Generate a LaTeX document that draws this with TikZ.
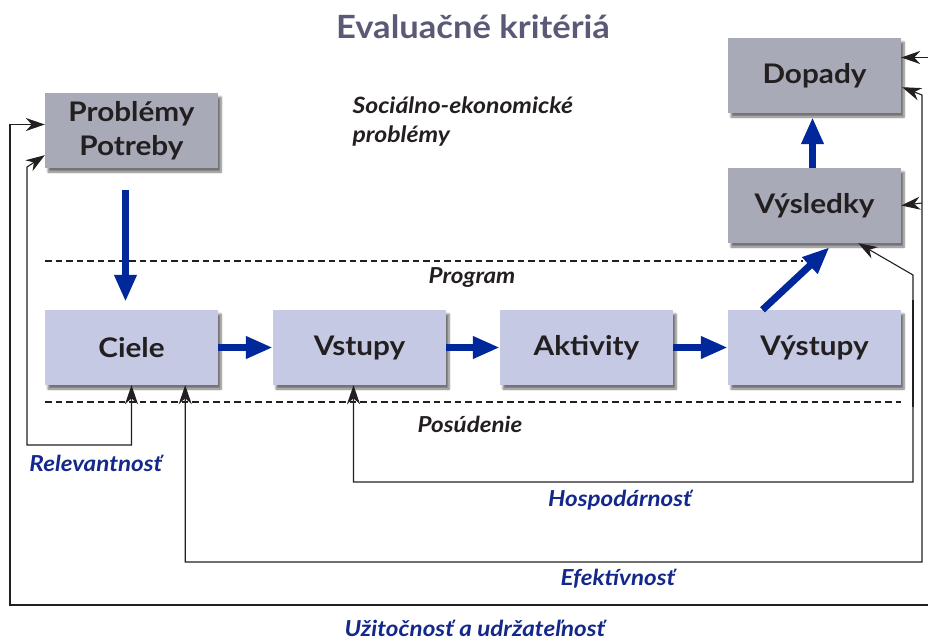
\documentclass[tikz,border=0pt]{standalone}
\usepackage{fontspec}
\setmainfont{Lato}
\newfontfamily\widefont[FakeStretch=1.1]{Lato}
\newfontfamily\titlefont[FakeStretch=1.08]{Lato}
\usetikzlibrary{arrows.meta,shadows.blur}
\definecolor{boxgray}{HTML}{A9AAB8}
\definecolor{boxblue}{HTML}{C6C9E4}
\definecolor{flowblue}{HTML}{00289A}
\definecolor{labblue}{HTML}{13288A}
\definecolor{titlegray}{HTML}{5A5A76}
\definecolor{ink}{HTML}{231F20}

\begin{document}
\begin{tikzpicture}[
        x=1pt, y=-1pt,
        box/.style={minimum width=173pt, minimum height=75pt, inner sep=0pt,
            text=ink, font=\widefont\fontsize{27}{32}\selectfont\bfseries, align=center,
            blur shadow={shadow xshift=3pt, shadow yshift=-4pt, shadow blur steps=6, shadow opacity=55}},
        graybox/.style={box, fill=boxgray},
        bluebox/.style={box, fill=boxblue},
        flow/.style={draw=flowblue, line width=7pt, -{Triangle[length=27pt,width=21pt]}},
        fb/.style={draw=ink, line width=1.1pt, {Stealth[length=19pt,width=13pt,inset=6pt]}-{Stealth[length=19pt,width=13pt,inset=6pt]}},
        fbone/.style={draw=ink, line width=1.1pt, -{Stealth[length=19pt,width=13pt,inset=6pt]}},
        sep/.style={draw=ink, line width=1.3pt, dash pattern=on 6.5pt off 4pt},
        crit/.style={text=labblue, font=\widefont\fontsize{22}{24}\selectfont\bfseries\itshape},
        part/.style={text=ink, font=\widefont\fontsize{22}{24}\selectfont\bfseries\itshape}
    ]
        \useasboundingbox (0,0) rectangle (928,640);

        % nadpis
        \node [text=titlegray, font=\titlefont\fontsize{32}{34}\selectfont\bfseries] (title) at (473,27) {Evaluačné kritériá};
        \node [anchor=west, text=ink, align=left, font=\widefont\fontsize{22.5}{29}\selectfont\bfseries\itshape] (socio) at (349,122) {Sociálno-ekonomické\\problémy};

        % oddelovače
        \draw[sep] (45,261) -- (803,261);
        \draw[sep] (45,402) -- (901,402);
        \node [part] (program) at (472,278) {Program};
        \node [part] (posud) at (470,424) {Posúdenie};

        % bloky
        \node [graybox] (prob) at (131.5,130.5) {Problémy\\[2pt]Potreby};
        \node [graybox] (dop) at (814.5,75.5) {Dopady};
        \node [graybox] (vys) at (814.5,205.5) {Výsledky};
        \node [bluebox] (ciele) at (131.5,347.5) {Ciele};
        \node [bluebox] (vst) at (359.5,347.5) {Vstupy};
        \node [bluebox] (akt) at (586.5,347.5) {Aktivity};
        \node [bluebox] (vyst) at (814.5,347.5) {Výstupy};

        % hlavný tok
        \draw[flow, shorten <=22pt, shorten >=8pt] ([xshift=-6pt]prob.south) -- ([xshift=-6pt]ciele.north);
        \draw[flow] (ciele) -- (vst);
        \draw[flow] (vst) -- (akt);
        \draw[flow] (akt) -- (vyst);
        \draw[flow] ([xshift=-52pt]vyst.north) -- ([xshift=15pt,yshift=-4pt]vys.south);
        \draw[flow, shorten >=4pt] ([xshift=-2pt]vys.north) -- ([xshift=-2pt]dop.south);

        % body spätných väzieb
        \coordinate (r1) at (27,445);
        \coordinate (r2) at (27,167);
        \coordinate (u1) at (10,605);
        \coordinate (u2) at (940,605);
        \coordinate (e1) at (922,562);
        \coordinate (e2) at (922,95);
        \coordinate (e3) at (922,203);
        \coordinate (h1) at (913,482);
        \coordinate (h2) at (913,275);
        \coordinate (h3) at (913,300);
        \coordinate (h4) at (913,407);

        % spätné väzby
        \draw[fb] (ciele.south) |- (r1) -- (r2) -- ([yshift=13pt]prob.south west);
        \draw[fb] ([yshift=6pt]prob.west) -| (u1) -- (u2) |- ([yshift=18pt]dop.east);
        \draw[fb] ([xshift=-33pt]ciele.south east) |- (e1) -- (e2) -- ([xshift=1pt,yshift=26pt]dop.south east);
        \draw[fbone] (e3) -- (vys.east);
        \draw[fb] ([xshift=-6pt]vst.south) |- (h1) -- (h2) -- ([xshift=-43pt]vys.south east);
        \draw[draw=ink, line width=2pt] (h3) -- (h4);

        % kritériá
        \node [crit] (relev) at (96,463) {Relevantnosť};
        \node [crit] (hosp) at (620,500) {Hospodárnosť};
        \node [crit] (efekt) at (618,579) {Efektívnosť};
        \node [crit] (uzit) at (475,628) {Užitočnosť a udržateľnosť};
    \end{tikzpicture}
\end{document}
